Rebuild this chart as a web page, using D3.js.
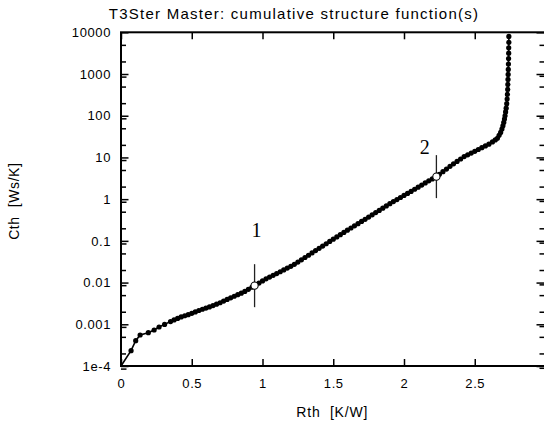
<!DOCTYPE html>
<html><head><meta charset="utf-8">
<script src="https://cdn.jsdelivr.net/npm/d3@7"></script>
<style>body{margin:0;background:#fff} svg{display:block} text{white-space:pre}</style>
</head><body>
<svg id="c" width="544" height="426"></svg>
<script>
// ---- data ----
const rth = [0, 0.071, 0.104, 0.135, 0.193, 0.234, 0.269, 0.308,
  0.350, 0.375, 0.400, 0.425, 0.450, 0.475, 0.500, 0.525, 0.550, 0.575,
  0.600, 0.625, 0.650, 0.675, 0.700, 0.725, 0.750, 0.775, 0.800, 0.825,
  0.850, 0.875, 0.900, 0.925, 0.944, 0.975, 1.000, 1.025, 1.050, 1.075,
  1.100, 1.125, 1.150, 1.175, 1.200, 1.225, 1.250, 1.275, 1.300, 1.325,
  1.350, 1.375, 1.400, 1.425, 1.450, 1.475, 1.500, 1.525, 1.550, 1.575,
  1.600, 1.625, 1.650, 1.675, 1.700, 1.725, 1.750, 1.775, 1.800, 1.825,
  1.850, 1.875, 1.900, 1.925, 1.950, 1.975, 2.000, 2.025, 2.050, 2.075,
  2.100, 2.125, 2.150, 2.175, 2.200, 2.229, 2.250, 2.275, 2.300, 2.325,
  2.350, 2.375, 2.400, 2.425, 2.450, 2.475, 2.500, 2.525, 2.550, 2.575,
  2.600, 2.625, 2.645, 2.660, 2.672, 2.683, 2.692, 2.699, 2.705, 2.710,
  2.714, 2.718, 2.722, 2.726, 2.729, 2.731, 2.733, 2.734, 2.735, 2.736,
  2.737, 2.738, 2.739, 2.740, 2.740, 2.741, 2.741];
const cth = [1e-4, 2.33e-4, 4.05e-4, 5.53e-4, 6.30e-4, 7.29e-4, 8.61e-4, 9.95e-4,
  1.164e-3, 1.271e-3, 1.384e-3, 1.500e-3, 1.600e-3, 1.702e-3, 1.828e-3, 1.977e-3, 2.143e-3, 2.296e-3,
  2.449e-3, 2.606e-3, 2.812e-3, 3.041e-3, 3.281e-3, 3.597e-3, 3.936e-3, 4.305e-3, 4.699e-3, 5.117e-3,
  5.572e-3, 6.152e-3, 6.902e-3, 7.727e-3, 8.433e-3, 9.727e-3, 1.094e-2, 1.227e-2, 1.358e-2, 1.496e-2,
  1.648e-2, 1.816e-2, 2.009e-2, 2.223e-2, 2.455e-2, 2.735e-2, 3.105e-2, 3.516e-2, 3.990e-2, 4.519e-2,
  5.129e-2, 5.834e-2, 6.622e-2, 7.516e-2, 8.531e-2, 9.705e-2, 0.1099, 0.1242, 0.1406, 0.1589,
  0.1799, 0.2032, 0.2296, 0.2588, 0.2917, 0.3289, 0.3715, 0.4198, 0.4753, 0.5370,
  0.6081, 0.6887, 0.7798, 0.8730, 0.9772, 1.094, 1.225, 1.371, 1.535, 1.726,
  1.941, 2.178, 2.449, 2.748, 3.062, 3.467, 3.926, 4.550, 5.272, 6.124,
  7.031, 8.035, 9.183, 10.50, 11.56, 12.74, 14.03, 15.49, 17.10, 18.88,
  20.84, 23.50, 26.30, 28.84, 33.88, 39.81, 47.86, 57.54, 69.18, 83.18,
  100.0, 123.0, 151.4, 195.0, 251.2, 323.6, 426.6, 562.3, 741.3, 977.2,
  1288, 1738, 2344, 3162, 4266, 5754, 7943];

const markerRth = [0.944, 2.229];
const markerCth = [0.008433, 3.467];
const markerText = ["1", "2"];
const markerLabelRth = [0.958, 2.146];
const markerLabelCth = [0.124, 12.1];

const xTickValues = [0, 0.5, 1, 1.5, 2, 2.5];
const xTickLabels = ["0", "0.5", "1", "1.5", "2", "2.5"];
const yTickValues = [1e-4, 1e-3, 1e-2, 1e-1, 1, 10, 100, 1000, 10000];
const yTickLabels = ["1e-4", "0.001", "0.01", "0.1", "1", "10", "100", "1000", "10000"];
const yMinorMult = [2, 5];

const titleText = "T3Ster Master: cumulative structure function(s)";
const xTitle = "Rth  [K/W]";
const yTitle = "Cth  [Ws/K]";

// ---- drawing ----
const svg = d3.select('#c');
const L = 121, R = 545.5, T = 32.3, B = 366;
const x = d3.scaleLinear().domain([0, 3]).range([L, R]);
const y = d3.scaleLog().domain([1e-4, 1e4]).range([B, T]);
const font = "'Liberation Sans', Arial, sans-serif";

const yMinor = [];
yTickValues.slice(0, -1).forEach(v => yMinorMult.forEach(m => yMinor.push(v * m)));

function styleAxis(g) {
  g.select('.domain').remove();
  g.selectAll('.tick line').attr('stroke', '#000').attr('stroke-width', 1.5);
  g.selectAll('.tick text').attr('fill', '#000').style('font-family', font)
    .style('font-size', '13px').style('letter-spacing', '0.6px');
}

// bottom
svg.append('g').attr('transform', `translate(0,${B})`)
  .call(d3.axisBottom(x).tickValues(xTickValues).tickFormat((d, i) => xTickLabels[i])
    .tickSizeInner(-7).tickSizeOuter(0).tickPadding(13))
  .call(styleAxis);
// top
svg.append('g').attr('transform', `translate(0,${T})`)
  .call(d3.axisTop(x).tickValues(xTickValues).tickFormat('').tickSizeInner(-7).tickSizeOuter(0))
  .call(styleAxis);
// left
svg.append('g').attr('transform', `translate(${L},0)`)
  .call(d3.axisLeft(y).tickValues(yTickValues).tickFormat((d, i) => yTickLabels[i])
    .tickSizeInner(-7.5).tickSizeOuter(0).tickPadding(10))
  .call(styleAxis);
svg.append('g').attr('transform', `translate(${L},0)`)
  .call(d3.axisLeft(y).tickValues(yMinor).tickFormat('').tickSizeInner(-5).tickSizeOuter(0))
  .call(styleAxis);
svg.append('g').attr('transform', `translate(${L},2.6)`)
  .call(d3.axisLeft(y).tickValues(yTickValues.slice(0, -1)).tickFormat('').tickSizeInner(-5.5).tickSizeOuter(0))
  .call(styleAxis);
// right
svg.append('g').attr('transform', `translate(${R},0)`)
  .call(d3.axisRight(y).tickValues(yTickValues).tickFormat('').tickSizeInner(-9).tickSizeOuter(0))
  .call(styleAxis);
svg.append('g').attr('transform', `translate(${R},0)`)
  .call(d3.axisRight(y).tickValues(yMinor).tickFormat('').tickSizeInner(-6).tickSizeOuter(0))
  .call(styleAxis);
svg.append('g').attr('transform', `translate(${R},1.8)`)
  .call(d3.axisRight(y).tickValues(yTickValues.slice(0, -1)).tickFormat('').tickSizeInner(-6).tickSizeOuter(0))
  .call(styleAxis);

// frame
svg.append('rect').attr('x', L).attr('y', T).attr('width', R - L).attr('height', B - T)
  .attr('fill', 'none').attr('stroke', '#000').attr('stroke-width', 2);

// curve
const pts = rth.map((r, i) => [r, cth[i]]);
svg.append('path').datum(pts)
  .attr('d', d3.line().x(d => x(d[0])).y(d => y(d[1])))
  .attr('fill', 'none').attr('stroke', '#000').attr('stroke-width', 1.6);
svg.append('g').selectAll('circle').data(pts.slice(1)).join('circle')
  .attr('cx', d => x(d[0])).attr('cy', d => y(d[1])).attr('r', 2.6).attr('fill', '#000');

// markers
markerRth.forEach((r, i) => {
  const cx = x(r), cy = y(markerCth[i]);
  svg.append('line').attr('x1', cx).attr('x2', cx).attr('y1', cy - 21.5).attr('y2', cy + 21.5)
    .attr('stroke', '#222').attr('stroke-width', 1.3);
  svg.append('circle').attr('cx', cx).attr('cy', cy).attr('r', 3.6)
    .attr('fill', '#fff').attr('stroke', '#000').attr('stroke-width', 1.1);
  svg.append('text').attr('x', x(markerLabelRth[i])).attr('y', y(markerLabelCth[i]))
    .attr('text-anchor', 'middle').style('font-family', "'Liberation Serif', 'Times New Roman', serif")
    .style('font-size', '20px').attr('fill', '#000').text(markerText[i]);
});

// titles
svg.append('text').attr('x', 294).attr('y', 18.5).attr('text-anchor', 'middle')
  .style('font-family', font).style('font-size', '15px').style('letter-spacing', '1.25px')
  .attr('fill', '#000').text(titleText);
svg.append('text').attr('x', (L + R) / 2 - 1).attr('y', 417).attr('text-anchor', 'middle')
  .style('font-family', font).style('font-size', '14px').style('letter-spacing', '0.8px')
  .attr('fill', '#000').text(xTitle);
svg.append('text').attr('transform', `translate(19,${(T + B) / 2 + 2}) rotate(-90)`).attr('text-anchor', 'middle')
  .style('font-family', font).style('font-size', '14px').style('letter-spacing', '0.6px')
  .attr('fill', '#000').text(yTitle);
</script>
</body></html>
